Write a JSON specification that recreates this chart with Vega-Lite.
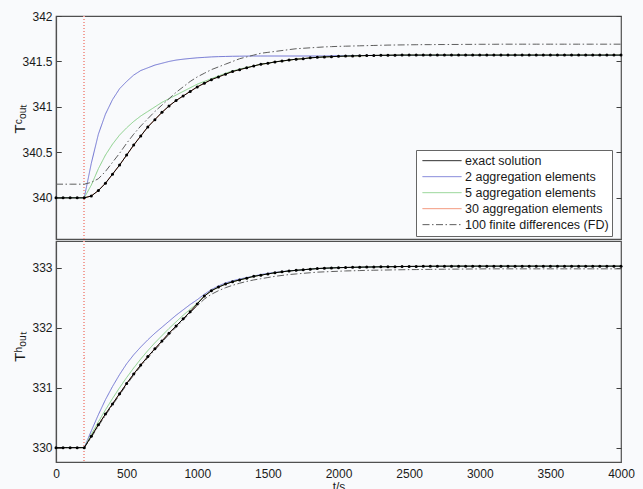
{
  "$schema": "https://vega.github.io/schema/vega-lite/v6.json",
  "background": "#f9fafc",
  "padding": {"left": 11, "top": 9, "right": 21, "bottom": 5},
  "config": {
    "font": "Liberation Sans",
    "view": {"stroke": "#505050", "strokeWidth": 1.2},
    "axis": {"domainColor": "#505050", "labelColor": "#1a1a1a", "titleColor": "#1a1a1a", "labelFontSize": 12, "titleFontWeight": "normal", "ticks": false, "tickColor": "#404040", "tickWidth": 1, "grid": true, "gridColor": "#404040", "gridOpacity": 1, "gridWidth": 1, "domainWidth": 1.2, "labelOverlap": false},
    "concat": {"spacing": -9}
  },
  "datasets": {
    "cold": [
      {"t":0,"ex":340,"a2":340,"a5":340,"a30":340,"fd":340.15},
      {"t":50,"ex":340,"a2":340,"a5":340,"a30":340,"fd":340.15},
      {"t":100,"ex":340,"a2":340,"a5":340,"a30":340,"fd":340.15},
      {"t":150,"ex":340,"a2":340,"a5":340,"a30":340,"fd":340.15},
      {"t":200,"ex":340,"a2":340,"a5":340,"a30":340,"fd":340.15},
      {"t":250,"ex":340.02,"a2":340.38,"a5":340.14,"a30":340.02,"fd":340.17},
      {"t":300,"ex":340.08,"a2":340.70,"a5":340.32,"a30":340.08,"fd":340.21},
      {"t":350,"ex":340.16,"a2":340.92,"a5":340.47,"a30":340.16,"fd":340.29},
      {"t":400,"ex":340.26,"a2":341.08,"a5":340.59,"a30":340.26,"fd":340.39},
      {"t":450,"ex":340.36,"a2":341.20,"a5":340.69,"a30":340.36,"fd":340.49},
      {"t":500,"ex":340.47,"a2":341.28,"a5":340.77,"a30":340.47,"fd":340.60},
      {"t":550,"ex":340.58,"a2":341.35,"a5":340.84,"a30":340.58,"fd":340.70},
      {"t":600,"ex":340.68,"a2":341.40,"a5":340.90,"a30":340.68,"fd":340.79},
      {"t":650,"ex":340.78,"a2":341.43,"a5":340.95,"a30":340.78,"fd":340.87},
      {"t":700,"ex":340.86,"a2":341.46,"a5":341.00,"a30":340.86,"fd":340.95},
      {"t":750,"ex":340.94,"a2":341.48,"a5":341.05,"a30":340.94,"fd":341.02},
      {"t":800,"ex":341.01,"a2":341.50,"a5":341.09,"a30":341.01,"fd":341.09},
      {"t":850,"ex":341.07,"a2":341.515,"a5":341.13,"a30":341.07,"fd":341.16},
      {"t":900,"ex":341.12,"a2":341.525,"a5":341.17,"a30":341.12,"fd":341.22},
      {"t":950,"ex":341.17,"a2":341.533,"a5":341.21,"a30":341.17,"fd":341.28},
      {"t":1000,"ex":341.22,"a2":341.54,"a5":341.25,"a30":341.22,"fd":341.33},
      {"t":1050,"ex":341.26,"a2":341.545,"a5":341.28,"a30":341.26,"fd":341.37},
      {"t":1100,"ex":341.30,"a2":341.55,"a5":341.31,"a30":341.30,"fd":341.41},
      {"t":1150,"ex":341.33,"a2":341.553,"a5":341.34,"a30":341.33,"fd":341.44},
      {"t":1200,"ex":341.36,"a2":341.555,"a5":341.37,"a30":341.36,"fd":341.47},
      {"t":1250,"ex":341.39,"a2":341.557,"a5":341.395,"a30":341.39,"fd":341.50},
      {"t":1300,"ex":341.41,"a2":341.558,"a5":341.415,"a30":341.41,"fd":341.53},
      {"t":1350,"ex":341.43,"a2":341.559,"a5":341.435,"a30":341.43,"fd":341.55},
      {"t":1400,"ex":341.45,"a2":341.56,"a5":341.45,"a30":341.45,"fd":341.57},
      {"t":1450,"ex":341.47,"a2":341.56,"a5":341.47,"a30":341.47,"fd":341.59},
      {"t":1500,"ex":341.48,"a2":341.56,"a5":341.48,"a30":341.48,"fd":341.60},
      {"t":1550,"ex":341.495,"a2":341.56,"a5":341.495,"a30":341.495,"fd":341.61},
      {"t":1600,"ex":341.505,"a2":341.56,"a5":341.505,"a30":341.505,"fd":341.62},
      {"t":1650,"ex":341.515,"a2":341.56,"a5":341.515,"a30":341.515,"fd":341.63},
      {"t":1700,"ex":341.525,"a2":341.56,"a5":341.525,"a30":341.525,"fd":341.64},
      {"t":1750,"ex":341.53,"a2":341.56,"a5":341.53,"a30":341.53,"fd":341.645},
      {"t":1800,"ex":341.54,"a2":341.56,"a5":341.54,"a30":341.54,"fd":341.65},
      {"t":1850,"ex":341.545,"a2":341.56,"a5":341.545,"a30":341.545,"fd":341.655},
      {"t":1900,"ex":341.55,"a2":341.56,"a5":341.55,"a30":341.55,"fd":341.66},
      {"t":1950,"ex":341.553,"a2":341.562,"a5":341.553,"a30":341.553,"fd":341.663},
      {"t":2000,"ex":341.556,"a2":341.563,"a5":341.556,"a30":341.556,"fd":341.666},
      {"t":2050,"ex":341.559,"a2":341.564,"a5":341.559,"a30":341.559,"fd":341.668},
      {"t":2100,"ex":341.561,"a2":341.565,"a5":341.561,"a30":341.561,"fd":341.67},
      {"t":2150,"ex":341.563,"a2":341.565,"a5":341.563,"a30":341.563,"fd":341.672},
      {"t":2200,"ex":341.565,"a2":341.566,"a5":341.565,"a30":341.565,"fd":341.674},
      {"t":2250,"ex":341.566,"a2":341.566,"a5":341.566,"a30":341.566,"fd":341.676},
      {"t":2300,"ex":341.567,"a2":341.567,"a5":341.567,"a30":341.567,"fd":341.678},
      {"t":2350,"ex":341.568,"a2":341.567,"a5":341.568,"a30":341.568,"fd":341.68},
      {"t":2400,"ex":341.569,"a2":341.568,"a5":341.569,"a30":341.569,"fd":341.681},
      {"t":2450,"ex":341.57,"a2":341.568,"a5":341.57,"a30":341.57,"fd":341.682},
      {"t":2500,"ex":341.57,"a2":341.568,"a5":341.57,"a30":341.57,"fd":341.683},
      {"t":2550,"ex":341.57,"a2":341.568,"a5":341.57,"a30":341.57,"fd":341.684},
      {"t":2600,"ex":341.57,"a2":341.568,"a5":341.57,"a30":341.57,"fd":341.685},
      {"t":2650,"ex":341.57,"a2":341.568,"a5":341.57,"a30":341.57,"fd":341.685},
      {"t":2700,"ex":341.57,"a2":341.568,"a5":341.57,"a30":341.57,"fd":341.686},
      {"t":2750,"ex":341.57,"a2":341.568,"a5":341.57,"a30":341.57,"fd":341.686},
      {"t":2800,"ex":341.57,"a2":341.568,"a5":341.57,"a30":341.57,"fd":341.687},
      {"t":2850,"ex":341.57,"a2":341.568,"a5":341.57,"a30":341.57,"fd":341.687},
      {"t":2900,"ex":341.57,"a2":341.568,"a5":341.57,"a30":341.57,"fd":341.688},
      {"t":2950,"ex":341.57,"a2":341.568,"a5":341.57,"a30":341.57,"fd":341.688},
      {"t":3000,"ex":341.57,"a2":341.568,"a5":341.57,"a30":341.57,"fd":341.689},
      {"t":3050,"ex":341.57,"a2":341.568,"a5":341.57,"a30":341.57,"fd":341.689},
      {"t":3100,"ex":341.57,"a2":341.568,"a5":341.57,"a30":341.57,"fd":341.689},
      {"t":3150,"ex":341.57,"a2":341.568,"a5":341.57,"a30":341.57,"fd":341.69},
      {"t":3200,"ex":341.57,"a2":341.568,"a5":341.57,"a30":341.57,"fd":341.69},
      {"t":3250,"ex":341.57,"a2":341.568,"a5":341.57,"a30":341.57,"fd":341.69},
      {"t":3300,"ex":341.57,"a2":341.568,"a5":341.57,"a30":341.57,"fd":341.69},
      {"t":3350,"ex":341.57,"a2":341.568,"a5":341.57,"a30":341.57,"fd":341.69},
      {"t":3400,"ex":341.57,"a2":341.568,"a5":341.57,"a30":341.57,"fd":341.69},
      {"t":3450,"ex":341.57,"a2":341.568,"a5":341.57,"a30":341.57,"fd":341.69},
      {"t":3500,"ex":341.57,"a2":341.568,"a5":341.57,"a30":341.57,"fd":341.69},
      {"t":3550,"ex":341.57,"a2":341.568,"a5":341.57,"a30":341.57,"fd":341.69},
      {"t":3600,"ex":341.57,"a2":341.568,"a5":341.57,"a30":341.57,"fd":341.69},
      {"t":3650,"ex":341.57,"a2":341.568,"a5":341.57,"a30":341.57,"fd":341.69},
      {"t":3700,"ex":341.57,"a2":341.568,"a5":341.57,"a30":341.57,"fd":341.69},
      {"t":3750,"ex":341.57,"a2":341.568,"a5":341.57,"a30":341.57,"fd":341.69},
      {"t":3800,"ex":341.57,"a2":341.568,"a5":341.57,"a30":341.57,"fd":341.69},
      {"t":3850,"ex":341.57,"a2":341.568,"a5":341.57,"a30":341.57,"fd":341.69},
      {"t":3900,"ex":341.57,"a2":341.568,"a5":341.57,"a30":341.57,"fd":341.69},
      {"t":3950,"ex":341.57,"a2":341.568,"a5":341.57,"a30":341.57,"fd":341.69},
      {"t":4000,"ex":341.57,"a2":341.568,"a5":341.57,"a30":341.57,"fd":341.69}
    ],
    "hot": [
      {"t":0,"ex":330,"a2":330,"a5":330,"a30":330,"fd":330},
      {"t":50,"ex":330,"a2":330,"a5":330,"a30":330,"fd":330},
      {"t":100,"ex":330,"a2":330,"a5":330,"a30":330,"fd":330},
      {"t":150,"ex":330,"a2":330,"a5":330,"a30":330,"fd":330},
      {"t":200,"ex":330,"a2":330,"a5":330,"a30":330,"fd":330},
      {"t":250,"ex":330.19,"a2":330.28,"a5":330.22,"a30":330.19,"fd":330.17},
      {"t":300,"ex":330.38,"a2":330.55,"a5":330.43,"a30":330.38,"fd":330.36},
      {"t":350,"ex":330.56,"a2":330.80,"a5":330.63,"a30":330.56,"fd":330.54},
      {"t":400,"ex":330.73,"a2":331.02,"a5":330.82,"a30":330.73,"fd":330.71},
      {"t":450,"ex":330.90,"a2":331.22,"a5":331.00,"a30":330.90,"fd":330.88},
      {"t":500,"ex":331.07,"a2":331.40,"a5":331.17,"a30":331.07,"fd":331.05},
      {"t":550,"ex":331.23,"a2":331.55,"a5":331.33,"a30":331.23,"fd":331.21},
      {"t":600,"ex":331.38,"a2":331.68,"a5":331.48,"a30":331.38,"fd":331.36},
      {"t":650,"ex":331.52,"a2":331.80,"a5":331.62,"a30":331.52,"fd":331.50},
      {"t":700,"ex":331.65,"a2":331.91,"a5":331.75,"a30":331.65,"fd":331.63},
      {"t":750,"ex":331.78,"a2":332.01,"a5":331.87,"a30":331.78,"fd":331.76},
      {"t":800,"ex":331.91,"a2":332.11,"a5":331.99,"a30":331.91,"fd":331.89},
      {"t":850,"ex":332.03,"a2":332.21,"a5":332.10,"a30":332.03,"fd":332.01},
      {"t":900,"ex":332.15,"a2":332.30,"a5":332.21,"a30":332.15,"fd":332.13},
      {"t":950,"ex":332.27,"a2":332.39,"a5":332.31,"a30":332.27,"fd":332.25},
      {"t":1000,"ex":332.40,"a2":332.47,"a5":332.41,"a30":332.40,"fd":332.37},
      {"t":1050,"ex":332.53,"a2":332.56,"a5":332.53,"a30":332.53,"fd":332.48},
      {"t":1100,"ex":332.62,"a2":332.64,"a5":332.62,"a30":332.62,"fd":332.56},
      {"t":1150,"ex":332.68,"a2":332.70,"a5":332.68,"a30":332.68,"fd":332.62},
      {"t":1200,"ex":332.73,"a2":332.75,"a5":332.73,"a30":332.73,"fd":332.67},
      {"t":1250,"ex":332.77,"a2":332.785,"a5":332.77,"a30":332.77,"fd":332.71},
      {"t":1300,"ex":332.80,"a2":332.815,"a5":332.80,"a30":332.80,"fd":332.745},
      {"t":1350,"ex":332.83,"a2":332.84,"a5":332.83,"a30":332.83,"fd":332.775},
      {"t":1400,"ex":332.86,"a2":332.865,"a5":332.86,"a30":332.86,"fd":332.80},
      {"t":1450,"ex":332.88,"a2":332.89,"a5":332.88,"a30":332.88,"fd":332.82},
      {"t":1500,"ex":332.90,"a2":332.91,"a5":332.90,"a30":332.90,"fd":332.84},
      {"t":1550,"ex":332.92,"a2":332.925,"a5":332.92,"a30":332.92,"fd":332.86},
      {"t":1600,"ex":332.935,"a2":332.94,"a5":332.935,"a30":332.935,"fd":332.875},
      {"t":1650,"ex":332.95,"a2":332.95,"a5":332.95,"a30":332.95,"fd":332.89},
      {"t":1700,"ex":332.96,"a2":332.96,"a5":332.96,"a30":332.96,"fd":332.90},
      {"t":1750,"ex":332.97,"a2":332.97,"a5":332.97,"a30":332.97,"fd":332.91},
      {"t":1800,"ex":332.98,"a2":332.98,"a5":332.98,"a30":332.98,"fd":332.92},
      {"t":1850,"ex":332.99,"a2":332.99,"a5":332.99,"a30":332.99,"fd":332.93},
      {"t":1900,"ex":332.995,"a2":332.995,"a5":332.995,"a30":332.995,"fd":332.935},
      {"t":1950,"ex":333.0,"a2":333.0,"a5":333.0,"a30":333.0,"fd":332.94},
      {"t":2000,"ex":333.005,"a2":333.005,"a5":333.005,"a30":333.005,"fd":332.945},
      {"t":2050,"ex":333.008,"a2":333.008,"a5":333.008,"a30":333.008,"fd":332.95},
      {"t":2100,"ex":333.01,"a2":333.01,"a5":333.01,"a30":333.01,"fd":332.953},
      {"t":2150,"ex":333.013,"a2":333.013,"a5":333.013,"a30":333.013,"fd":332.956},
      {"t":2200,"ex":333.015,"a2":333.015,"a5":333.015,"a30":333.015,"fd":332.96},
      {"t":2250,"ex":333.017,"a2":333.017,"a5":333.017,"a30":333.017,"fd":332.962},
      {"t":2300,"ex":333.02,"a2":333.02,"a5":333.02,"a30":333.02,"fd":332.964},
      {"t":2350,"ex":333.021,"a2":333.021,"a5":333.021,"a30":333.021,"fd":332.966},
      {"t":2400,"ex":333.022,"a2":333.022,"a5":333.022,"a30":333.022,"fd":332.968},
      {"t":2450,"ex":333.024,"a2":333.024,"a5":333.024,"a30":333.024,"fd":332.97},
      {"t":2500,"ex":333.025,"a2":333.025,"a5":333.025,"a30":333.025,"fd":332.972},
      {"t":2550,"ex":333.026,"a2":333.026,"a5":333.026,"a30":333.026,"fd":332.973},
      {"t":2600,"ex":333.027,"a2":333.027,"a5":333.027,"a30":333.027,"fd":332.975},
      {"t":2650,"ex":333.028,"a2":333.028,"a5":333.028,"a30":333.028,"fd":332.976},
      {"t":2700,"ex":333.029,"a2":333.029,"a5":333.029,"a30":333.029,"fd":332.978},
      {"t":2750,"ex":333.029,"a2":333.029,"a5":333.029,"a30":333.029,"fd":332.979},
      {"t":2800,"ex":333.03,"a2":333.03,"a5":333.03,"a30":333.03,"fd":332.98},
      {"t":2850,"ex":333.03,"a2":333.03,"a5":333.03,"a30":333.03,"fd":332.981},
      {"t":2900,"ex":333.03,"a2":333.03,"a5":333.03,"a30":333.03,"fd":332.982},
      {"t":2950,"ex":333.03,"a2":333.03,"a5":333.03,"a30":333.03,"fd":332.983},
      {"t":3000,"ex":333.03,"a2":333.03,"a5":333.03,"a30":333.03,"fd":332.984},
      {"t":3050,"ex":333.03,"a2":333.03,"a5":333.03,"a30":333.03,"fd":332.985},
      {"t":3100,"ex":333.03,"a2":333.03,"a5":333.03,"a30":333.03,"fd":332.985},
      {"t":3150,"ex":333.03,"a2":333.03,"a5":333.03,"a30":333.03,"fd":332.985},
      {"t":3200,"ex":333.03,"a2":333.03,"a5":333.03,"a30":333.03,"fd":332.985},
      {"t":3250,"ex":333.03,"a2":333.03,"a5":333.03,"a30":333.03,"fd":332.985},
      {"t":3300,"ex":333.03,"a2":333.03,"a5":333.03,"a30":333.03,"fd":332.985},
      {"t":3350,"ex":333.03,"a2":333.03,"a5":333.03,"a30":333.03,"fd":332.985},
      {"t":3400,"ex":333.03,"a2":333.03,"a5":333.03,"a30":333.03,"fd":332.985},
      {"t":3450,"ex":333.03,"a2":333.03,"a5":333.03,"a30":333.03,"fd":332.985},
      {"t":3500,"ex":333.03,"a2":333.03,"a5":333.03,"a30":333.03,"fd":332.985},
      {"t":3550,"ex":333.03,"a2":333.03,"a5":333.03,"a30":333.03,"fd":332.985},
      {"t":3600,"ex":333.03,"a2":333.03,"a5":333.03,"a30":333.03,"fd":332.985},
      {"t":3650,"ex":333.03,"a2":333.03,"a5":333.03,"a30":333.03,"fd":332.985},
      {"t":3700,"ex":333.03,"a2":333.03,"a5":333.03,"a30":333.03,"fd":332.985},
      {"t":3750,"ex":333.03,"a2":333.03,"a5":333.03,"a30":333.03,"fd":332.985},
      {"t":3800,"ex":333.03,"a2":333.03,"a5":333.03,"a30":333.03,"fd":332.985},
      {"t":3850,"ex":333.03,"a2":333.03,"a5":333.03,"a30":333.03,"fd":332.985},
      {"t":3900,"ex":333.03,"a2":333.03,"a5":333.03,"a30":333.03,"fd":332.985},
      {"t":3950,"ex":333.03,"a2":333.03,"a5":333.03,"a30":333.03,"fd":332.985},
      {"t":4000,"ex":333.03,"a2":333.03,"a5":333.03,"a30":333.03,"fd":332.985}
    ]
  },
  "resolve": {
    "scale": {"color": "independent", "strokeDash": "independent", "strokeWidth": "independent"},
    "legend": {"color": "independent", "strokeDash": "independent", "strokeWidth": "independent"}
  },
  "vconcat": [
    {
      "width": 565,
      "height": 223,
      "data": {"name": "cold"},
      "resolve": {"axis": {"x": "independent", "y": "independent"}},
      "layer": [
        {
          "mark": {"type": "rule", "color": "#f2a19a", "strokeDash": [1, 2], "strokeWidth": 1},
          "encoding": {"x": {"datum": 200, "type": "quantitative", "scale": {"domain": [0, 4000], "nice": false}, "axis": null}}
        },
        {
          "transform": [{"fold": ["a30", "a2", "a5", "fd"], "as": ["key", "value"]}],
          "mark": {"type": "line"},
          "encoding": {
            "x": {"field": "t", "type": "quantitative", "scale": {"domain": [0, 4000], "nice": false},
              "axis": {"orient": "bottom", "values": [0,100,200,300,400,500,600,700,800,900,1000,1100,1200,1300,1400,1500,1600,1700,1800,1900,2000,2100,2200,2300,2400,2500,2600,2700,2800,2900,3000,3100,3200,3300,3400,3500,3600,3700,3800,3900,4000], "labels": false, "title": null,
                "gridDash": {"condition": {"test": "datum.value % 500 === 0", "value": [5, 213, 5, 2000]}, "value": [2.5, 218, 2.5, 2000]}}},
            "y": {"field": "value", "type": "quantitative", "scale": {"domain": [339.547, 342], "nice": false, "zero": false},
              "axis": {"orient": "left", "values": [340, 340.5, 341, 341.5, 342], "format": ".1~f", "ticks": true, "tickSize": -5, "labelPadding": 9, "gridDash": [5, 555, 5, 2000], "title": "Tᶜₒᵤₜ", "titleFontSize": 15, "titleX": -37, "titleY": 102, "titleAlign": "center", "titleBaseline": "middle", "titleAngle": -90}},
            "color": {"field": "key", "type": "nominal",
              "scale": {"domain": ["ex", "a2", "a5", "a30", "fd"], "range": ["#000000", "#6f73d2", "#86cf86", "#f08462", "#5e5e5e"]},
              "legend": {"title": null, "orient": "none", "legendX": 360, "legendY": 134, "symbolType": "stroke", "symbolSize": 1521, "clipHeight": 15.3, "rowPadding": 0, "padding": 3, "symbolOffset": 3, "labelOffset": 3, "labelFontSize": 12.5, "labelColor": "#1a1a1a", "symbolStrokeWidth": 1, "fillColor": "#ffffff", "strokeColor": "#666666",
                "labelExpr": "datum.value === 'ex' ? 'exact solution' : datum.value === 'a2' ? '2 aggregation elements' : datum.value === 'a5' ? '5 aggregation elements' : datum.value === 'a30' ? '30 aggregation elements' : '100 finite differences (FD)'"}},
            "strokeDash": {"field": "key", "type": "nominal",
              "scale": {"domain": ["ex", "a2", "a5", "a30", "fd"], "range": [[1, 0], [1, 0], [1, 0], [1, 0], [7, 2.5, 1.5, 2.5]]},
              "legend": {"title": null, "orient": "none", "legendX": 360, "legendY": 134, "symbolType": "stroke", "symbolSize": 1521, "clipHeight": 15.3, "rowPadding": 0, "padding": 3, "symbolOffset": 3, "labelOffset": 3, "labelFontSize": 12.5, "labelColor": "#1a1a1a", "symbolStrokeWidth": 1, "fillColor": "#ffffff", "strokeColor": "#666666",
                "labelExpr": "datum.value === 'ex' ? 'exact solution' : datum.value === 'a2' ? '2 aggregation elements' : datum.value === 'a5' ? '5 aggregation elements' : datum.value === 'a30' ? '30 aggregation elements' : '100 finite differences (FD)'"}},
            "strokeWidth": {"field": "key", "type": "nominal", "scale": {"domain": ["ex", "a2", "a5", "a30", "fd"], "range": [1, 1, 1, 2.4, 1.1]}, "legend": null}
          }
        },
        {
          "mark": {"type": "line", "color": "#000000", "strokeWidth": 1},
          "encoding": {
            "x": {"field": "t", "type": "quantitative", "scale": {"domain": [0, 4000], "nice": false}, "axis": null},
            "y": {"field": "ex", "type": "quantitative", "scale": {"domain": [339.547, 342], "nice": false, "zero": false}, "axis": null}
          }
        },
        {
          "mark": {"type": "circle", "color": "#000000", "size": 9, "opacity": 1},
          "encoding": {
            "x": {"field": "t", "type": "quantitative", "scale": {"domain": [0, 4000], "nice": false}, "axis": null},
            "y": {"field": "ex", "type": "quantitative", "scale": {"domain": [339.547, 342], "nice": false, "zero": false}, "axis": null}
          }
        }
      ]
    },
    {
      "width": 565,
      "height": 221,
      "data": {"name": "hot"},
      "resolve": {"axis": {"x": "independent", "y": "independent"}},
      "layer": [
        {
          "mark": {"type": "rule", "color": "#f2a19a", "strokeDash": [1, 2], "strokeWidth": 1},
          "encoding": {"x": {"datum": 200, "type": "quantitative", "scale": {"domain": [0, 4000], "nice": false}, "axis": null}}
        },
        {
          "transform": [{"fold": ["a30", "a2", "a5", "fd"], "as": ["key", "value"]}],
          "mark": {"type": "line"},
          "encoding": {
            "x": {"field": "t", "type": "quantitative", "scale": {"domain": [0, 4000], "nice": false},
              "axis": {"orient": "bottom", "values": [0,100,200,300,400,500,600,700,800,900,1000,1100,1200,1300,1400,1500,1600,1700,1800,1900,2000,2100,2200,2300,2400,2500,2600,2700,2800,2900,3000,3100,3200,3300,3400,3500,3600,3700,3800,3900,4000], "format": "d", "labelExpr": "datum.value % 500 === 0 ? datum.label : ''", "labelFlush": false, "labelPadding": 6.5, "title": "t/s", "titleFontSize": 12, "titlePadding": 2,
                "gridDash": {"condition": {"test": "datum.value % 500 === 0", "value": [5, 211, 5, 2000]}, "value": [2.5, 216, 2.5, 2000]}}},
            "y": {"field": "value", "type": "quantitative", "scale": {"domain": [329.76, 333.45], "nice": false, "zero": false},
              "axis": {"orient": "left", "values": [330, 331, 332, 333], "format": "d", "ticks": true, "tickSize": -5, "labelPadding": 9, "gridDash": [5, 555, 5, 2000], "title": "Tʰₒᵤₜ", "titleFontSize": 15, "titleX": -37, "titleY": 105, "titleAlign": "center", "titleBaseline": "middle", "titleAngle": -90}},
            "color": {"field": "key", "type": "nominal",
              "scale": {"domain": ["ex", "a2", "a5", "a30", "fd"], "range": ["#000000", "#6f73d2", "#86cf86", "#f08462", "#5e5e5e"]}, "legend": null},
            "strokeDash": {"field": "key", "type": "nominal",
              "scale": {"domain": ["ex", "a2", "a5", "a30", "fd"], "range": [[1, 0], [1, 0], [1, 0], [1, 0], [7, 2.5, 1.5, 2.5]]}, "legend": null},
            "strokeWidth": {"field": "key", "type": "nominal", "scale": {"domain": ["ex", "a2", "a5", "a30", "fd"], "range": [1, 1, 1, 2.4, 1.1]}, "legend": null}
          }
        },
        {
          "mark": {"type": "line", "color": "#000000", "strokeWidth": 1},
          "encoding": {
            "x": {"field": "t", "type": "quantitative", "scale": {"domain": [0, 4000], "nice": false}, "axis": null},
            "y": {"field": "ex", "type": "quantitative", "scale": {"domain": [329.76, 333.45], "nice": false, "zero": false}, "axis": null}
          }
        },
        {
          "mark": {"type": "circle", "color": "#000000", "size": 9, "opacity": 1},
          "encoding": {
            "x": {"field": "t", "type": "quantitative", "scale": {"domain": [0, 4000], "nice": false}, "axis": null},
            "y": {"field": "ex", "type": "quantitative", "scale": {"domain": [329.76, 333.45], "nice": false, "zero": false}, "axis": null}
          }
        }
      ]
    }
  ]
}
